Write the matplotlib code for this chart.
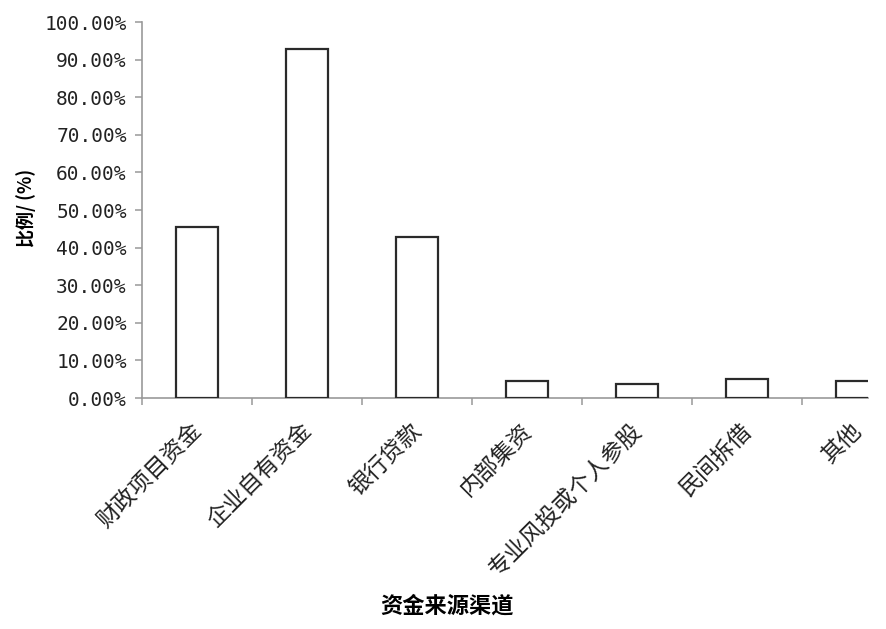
import numpy as np
import matplotlib
matplotlib.use("Agg")
import matplotlib.pyplot as plt
import matplotlib.transforms as mtransforms
from matplotlib.ticker import FuncFormatter

plt.rcParams['font.family'] = ['Noto Sans CJK SC', 'DejaVu Sans']

# funding channels and their share
channels = ['财政项目资金', '企业自有资金', '银行贷款', '内部集资',
            '专业风投或个人参股', '民间拆借', '其他']
shares = [0.455, 0.929, 0.429, 0.044, 0.038, 0.051, 0.044]
y_ticks = [0.0, 0.1, 0.2, 0.3, 0.4, 0.5, 0.6, 0.7, 0.8, 0.9, 1.0]

fig = plt.figure(figsize=(8.86, 6.29), dpi=100)
ax = fig.add_axes([142 / 886, 1 - 398 / 629, 726 / 886, 376 / 629])

x = np.arange(len(channels))
ax.bar(x, shares, width=0.39, facecolor='white', edgecolor='#2a2a2a',
       linewidth=1.6, zorder=3)

# axes look
for side in ['top', 'right']:
    ax.spines[side].set_visible(False)
for side in ['left', 'bottom']:
    ax.spines[side].set_color('#999999')
    ax.spines[side].set_linewidth(1.2)

ax.set_yticks(y_ticks)
ax.yaxis.set_major_formatter(FuncFormatter(lambda v, p: '%.2f%%' % (v * 100)))
ax.tick_params(axis='y', direction='out', length=5, width=1.1, color='#999999',
               pad=6)
for lbl in ax.get_yticklabels():
    lbl.set_fontfamily('DejaVu Sans Mono')
    lbl.set_fontsize(14)
    lbl.set_color('#222222')

ax.set_xticks(x)
ax.set_xticks(np.arange(-0.5, 7.0, 1.0), minor=True)
ax.tick_params(axis='x', which='major', length=0, pad=10)
ax.tick_params(axis='x', which='minor', direction='out', length=5, width=1.1,
               color='#999999')
ax.set_xticklabels(channels, rotation=45, ha='right', va='center',
                   rotation_mode='anchor', fontsize=16.5, color='#222222')
offset = mtransforms.ScaledTranslation(1 / 100, -15 / 100, fig.dpi_scale_trans)
for lbl in ax.get_xticklabels():
    lbl.set_transform(lbl.get_transform() + offset)

# limits last, the minor ticks would widen them otherwise
ax.set_xlim(-0.5, 6.1)
ax.set_ylim(0, 1.0)

fig.text(26 / 886, 1 - 208 / 629, '比例/ (%)', rotation=90, ha='center',
         va='center', fontsize=13, fontweight='bold')
fig.text(447 / 886, 1 - 606 / 629, '资金来源渠道', ha='center', va='center',
         fontsize=16, fontweight='bold')

fig.savefig('out.png', dpi=100)
